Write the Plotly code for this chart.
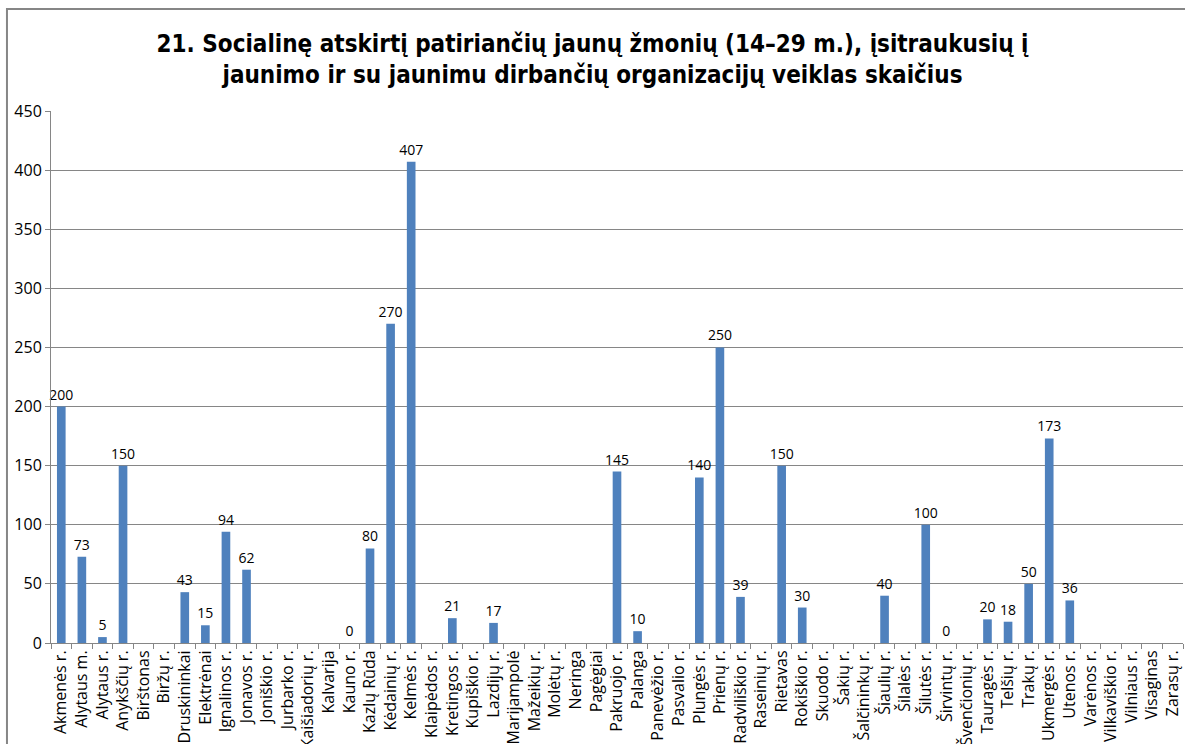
import plotly.graph_objects as go

categories = [
    "Akmenės r.", "Alytaus m.", "Alytaus r.", "Anykščių r.", "Birštonas", "Biržų r.",
    "Druskininkai", "Elektrėnai", "Ignalinos r.", "Jonavos r.", "Joniškio r.", "Jurbarko r.",
    "Kaišiadorių r.", "Kalvarija", "Kauno r.", "Kazlų Rūda", "Kėdainių r.", "Kelmės r.",
    "Klaipėdos r.", "Kretingos r.", "Kupiškio r.", "Lazdijų r.", "Marijampolė", "Mažeikių r.",
    "Molėtų r.", "Neringa", "Pagėgiai", "Pakruojo r.", "Palanga", "Panevėžio r.",
    "Pasvalio r.", "Plungės r.", "Prienų r.", "Radviliškio r.", "Raseinių r.", "Rietavas",
    "Rokiškio r.", "Skuodo r.", "Šakių r.", "Šalčininkų r.", "Šiaulių r.", "Šilalės r.",
    "Šilutės r.", "Širvintų r.", "Švenčionių r.", "Tauragės r.", "Telšių r.", "Trakų r.",
    "Ukmergės r.", "Utenos r.", "Varėnos r.", "Vilkaviškio r.", "Vilniaus r.", "Visaginas",
    "Zarasų r.",
]

values = [
    200, 73, 5, 150, None, None,
    43, 15, 94, 62, None, None,
    None, None, 0, 80, 270, 407,
    None, 21, None, 17, None, None,
    None, None, None, 145, 10, None,
    None, 140, 250, 39, None, 150,
    30, None, None, None, 40, None,
    100, 0, None, 20, 18, 50,
    173, 36, None, None, None, None,
    None,
]

title = ("21. Socialinę atskirtį patiriančių jaunų žmonių (14–29 m.), įsitraukusių į<br>"
         "jaunimo ir su jaunimu dirbančių organizacijų veiklas skaičius")

labels = ["" if v is None else str(v) for v in values]

fig = go.Figure()
fig.add_trace(go.Bar(
    x=categories, y=values, text=labels, textposition="outside",
    textfont=dict(size=14, color="#000000", family="Open Sans"), cliponaxis=False,
    constraintext="none", textangle=0,
    marker=dict(color="#4F81BD", line=dict(width=0)), width=0.42,
))

fig.update_layout(
    width=1185, height=744,
    margin=dict(l=51, r=2, t=111, b=101),
    paper_bgcolor="white", plot_bgcolor="white",
    font=dict(family="Open Sans, sans-serif", color="#000000"),
    title=dict(text=title, x=0.5, xanchor="center", y=0.93, yanchor="top",
               font=dict(size=24, family="Liberation Sans Narrow, DejaVu Sans Condensed, sans-serif",
                         weight="bold")),
    showlegend=False,
    shapes=[dict(type="rect", xref="paper", yref="paper", x0=-0.0389, x1=1.05, y0=-0.3,
                 y1=1.1917, line=dict(color="#868686", width=2), layer="below")],
)

fig.update_xaxes(
    type="category", tickangle=-90, tickfont=dict(size=16, family="Open Sans"),
    ticks="outside", tickson="boundaries", ticklen=5, tickcolor="#868686",
    showline=True, linecolor="#868686", linewidth=1, showgrid=False, automargin=False,
)
fig.update_yaxes(
    range=[0, 450], dtick=50, tickfont=dict(size=16, family="Open Sans"),
    ticks="outside", ticklen=5, tickcolor="#868686",
    showline=True, linecolor="#868686", linewidth=1,
    showgrid=True, gridcolor="#868686", gridwidth=1, zeroline=False, automargin=False,
)

fig.write_html("out.html", config={"displayModeBar": False},
               post_script="document.body.style.margin='0';")
